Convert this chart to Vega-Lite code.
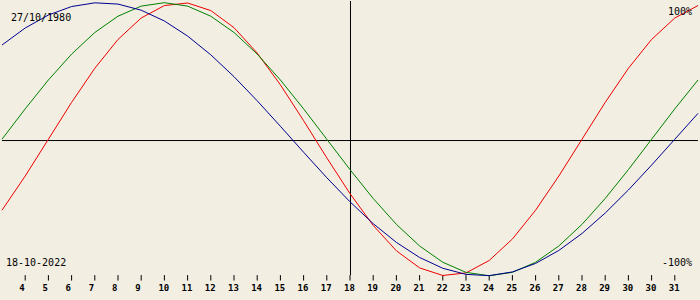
{
  "$schema": "https://vega.github.io/schema/vega-lite/v6.json",
  "width": 700,
  "height": 300,
  "autosize": {"type": "fit", "contains": "padding"},
  "padding": 0,
  "background": "#f2eee2",
  "config": {
    "view": {"stroke": null},
    "text": {"font": "DejaVu Sans Mono", "fontSize": 10, "color": "#000000"}
  },
  "datasets": {
    "curves": [
      {"day": 0, "series": "Physical", "v": -0.5196}, {"day": 1, "series": "Physical", "v": -0.2698}, {"day": 2, "series": "Physical", "v": 0}, {"day": 3, "series": "Physical", "v": 0.2698}, {"day": 4, "series": "Physical", "v": 0.5196}, {"day": 5, "series": "Physical", "v": 0.7308}, {"day": 6, "series": "Physical", "v": 0.8879}, {"day": 7, "series": "Physical", "v": 0.9791}, {"day": 8, "series": "Physical", "v": 0.9977}, {"day": 9, "series": "Physical", "v": 0.9423}, {"day": 10, "series": "Physical", "v": 0.817}, {"day": 11, "series": "Physical", "v": 0.6311}, {"day": 12, "series": "Physical", "v": 0.3984}, {"day": 13, "series": "Physical", "v": 0.1362}, {"day": 14, "series": "Physical", "v": -0.1362}, {"day": 15, "series": "Physical", "v": -0.3984}, {"day": 16, "series": "Physical", "v": -0.6311}, {"day": 17, "series": "Physical", "v": -0.817}, {"day": 18, "series": "Physical", "v": -0.9423}, {"day": 19, "series": "Physical", "v": -0.9977}, {"day": 20, "series": "Physical", "v": -0.9791}, {"day": 21, "series": "Physical", "v": -0.8879}, {"day": 22, "series": "Physical", "v": -0.7308}, {"day": 23, "series": "Physical", "v": -0.5196}, {"day": 24, "series": "Physical", "v": -0.2698}, {"day": 25, "series": "Physical", "v": 0}, {"day": 26, "series": "Physical", "v": 0.2698}, {"day": 27, "series": "Physical", "v": 0.5196}, {"day": 28, "series": "Physical", "v": 0.7308}, {"day": 29, "series": "Physical", "v": 0.8879}, {"day": 30, "series": "Physical", "v": 0.9791},
      {"day": 0, "series": "Emotional", "v": 0}, {"day": 1, "series": "Emotional", "v": 0.2225}, {"day": 2, "series": "Emotional", "v": 0.4339}, {"day": 3, "series": "Emotional", "v": 0.6235}, {"day": 4, "series": "Emotional", "v": 0.7818}, {"day": 5, "series": "Emotional", "v": 0.901}, {"day": 6, "series": "Emotional", "v": 0.9749}, {"day": 7, "series": "Emotional", "v": 1}, {"day": 8, "series": "Emotional", "v": 0.9749}, {"day": 9, "series": "Emotional", "v": 0.901}, {"day": 10, "series": "Emotional", "v": 0.7818}, {"day": 11, "series": "Emotional", "v": 0.6235}, {"day": 12, "series": "Emotional", "v": 0.4339}, {"day": 13, "series": "Emotional", "v": 0.2225}, {"day": 14, "series": "Emotional", "v": 0}, {"day": 15, "series": "Emotional", "v": -0.2225}, {"day": 16, "series": "Emotional", "v": -0.4339}, {"day": 17, "series": "Emotional", "v": -0.6235}, {"day": 18, "series": "Emotional", "v": -0.7818}, {"day": 19, "series": "Emotional", "v": -0.901}, {"day": 20, "series": "Emotional", "v": -0.9749}, {"day": 21, "series": "Emotional", "v": -1}, {"day": 22, "series": "Emotional", "v": -0.9749}, {"day": 23, "series": "Emotional", "v": -0.901}, {"day": 24, "series": "Emotional", "v": -0.7818}, {"day": 25, "series": "Emotional", "v": -0.6235}, {"day": 26, "series": "Emotional", "v": -0.4339}, {"day": 27, "series": "Emotional", "v": -0.2225}, {"day": 28, "series": "Emotional", "v": 0}, {"day": 29, "series": "Emotional", "v": 0.2225}, {"day": 30, "series": "Emotional", "v": 0.4339},
      {"day": 0, "series": "Intellectual", "v": 0.6901}, {"day": 1, "series": "Intellectual", "v": 0.8146}, {"day": 2, "series": "Intellectual", "v": 0.9096}, {"day": 3, "series": "Intellectual", "v": 0.9718}, {"day": 4, "series": "Intellectual", "v": 0.9989}, {"day": 5, "series": "Intellectual", "v": 0.9898}, {"day": 6, "series": "Intellectual", "v": 0.945}, {"day": 7, "series": "Intellectual", "v": 0.866}, {"day": 8, "series": "Intellectual", "v": 0.7557}, {"day": 9, "series": "Intellectual", "v": 0.6182}, {"day": 10, "series": "Intellectual", "v": 0.4582}, {"day": 11, "series": "Intellectual", "v": 0.2817}, {"day": 12, "series": "Intellectual", "v": 0.0951}, {"day": 13, "series": "Intellectual", "v": -0.0951}, {"day": 14, "series": "Intellectual", "v": -0.2817}, {"day": 15, "series": "Intellectual", "v": -0.4582}, {"day": 16, "series": "Intellectual", "v": -0.6182}, {"day": 17, "series": "Intellectual", "v": -0.7557}, {"day": 18, "series": "Intellectual", "v": -0.866}, {"day": 19, "series": "Intellectual", "v": -0.945}, {"day": 20, "series": "Intellectual", "v": -0.9898}, {"day": 21, "series": "Intellectual", "v": -0.9989}, {"day": 22, "series": "Intellectual", "v": -0.9718}, {"day": 23, "series": "Intellectual", "v": -0.9096}, {"day": 24, "series": "Intellectual", "v": -0.8146}, {"day": 25, "series": "Intellectual", "v": -0.6901}, {"day": 26, "series": "Intellectual", "v": -0.5406}, {"day": 27, "series": "Intellectual", "v": -0.3717}, {"day": 28, "series": "Intellectual", "v": -0.1893}, {"day": 29, "series": "Intellectual", "v": 0}, {"day": 30, "series": "Intellectual", "v": 0.1893}
    ],
    "ticks": [
      {"pos": 1, "label": "4"}, {"pos": 2, "label": "5"}, {"pos": 3, "label": "6"}, {"pos": 4, "label": "7"}, {"pos": 5, "label": "8"}, {"pos": 6, "label": "9"}, {"pos": 7, "label": "10"}, {"pos": 8, "label": "11"}, {"pos": 9, "label": "12"}, {"pos": 10, "label": "13"}, {"pos": 11, "label": "14"}, {"pos": 12, "label": "15"}, {"pos": 13, "label": "16"}, {"pos": 14, "label": "17"}, {"pos": 15, "label": "18"}, {"pos": 16, "label": "19"}, {"pos": 17, "label": "20"}, {"pos": 18, "label": "21"}, {"pos": 19, "label": "22"}, {"pos": 20, "label": "23"}, {"pos": 21, "label": "24"}, {"pos": 22, "label": "25"}, {"pos": 23, "label": "26"}, {"pos": 24, "label": "27"}, {"pos": 25, "label": "28"}, {"pos": 26, "label": "29"}, {"pos": 27, "label": "30"}, {"pos": 28, "label": "30"}, {"pos": 29, "label": "31"}
    ]
  },
  "layer": [
    {
      "data": {"values": [{}]},
      "mark": {"type": "rule", "color": "#000000", "strokeWidth": 1},
      "encoding": {
        "y": {"datum": -0.0095, "type": "quantitative", "scale": {"domain": [-1.1774, 1.0124], "nice": false, "zero": false}, "axis": null}
      }
    },
    {
      "data": {"values": [{}]},
      "mark": {"type": "rule", "color": "#000000", "strokeWidth": 1},
      "encoding": {
        "x": {"datum": 15.0214, "type": "quantitative", "scale": {"domain": [0, 30], "nice": false, "zero": false}, "axis": null},
        "y": {"datum": 1.0124, "type": "quantitative", "scale": {"domain": [-1.1774, 1.0124], "nice": false, "zero": false}, "axis": null},
        "y2": {"datum": -0.995}
      }
    },
    {
      "data": {"name": "ticks"},
      "mark": {"type": "rule", "color": "#000000", "strokeWidth": 1},
      "encoding": {
        "x": {"field": "pos", "type": "quantitative", "scale": {"domain": [0, 30], "nice": false, "zero": false}, "axis": null},
        "y": {"datum": -0.995, "type": "quantitative", "scale": {"domain": [-1.1774, 1.0124], "nice": false, "zero": false}, "axis": null},
        "y2": {"datum": -1.035}
      }
    },
    {
      "data": {"name": "ticks"},
      "mark": {"type": "text", "align": "left", "baseline": "middle", "dx": -6, "fontSize": 9, "fontWeight": "bold"},
      "encoding": {
        "x": {"field": "pos", "type": "quantitative", "scale": {"domain": [0, 30], "nice": false, "zero": false}, "axis": null},
        "y": {"datum": -1.0898, "type": "quantitative", "scale": {"domain": [-1.1774, 1.0124], "nice": false, "zero": false}, "axis": null},
        "text": {"field": "label", "type": "nominal"}
      }
    },
    {
      "data": {"name": "curves"},
      "mark": {"type": "line", "strokeWidth": 1, "interpolate": "linear"},
      "encoding": {
        "x": {"field": "day", "type": "quantitative", "scale": {"domain": [0, 30], "nice": false, "zero": false}, "axis": null},
        "y": {"field": "v", "type": "quantitative", "scale": {"domain": [-1.1774, 1.0124], "nice": false, "zero": false}, "axis": null},
        "color": {
          "field": "series", "type": "nominal",
          "scale": {"domain": ["Physical", "Emotional", "Intellectual"], "range": ["#ee0000", "#008000", "#000090"]},
          "legend": null
        },
        "order": {"field": "day"}
      }
    },
    {
      "data": {"values": [{}]},
      "mark": {"type": "text", "text": "27/10/1980", "align": "left", "baseline": "middle"},
      "encoding": {
        "x": {"datum": 0.386, "type": "quantitative", "scale": {"domain": [0, 30], "nice": false, "zero": false}, "axis": null},
        "y": {"datum": 0.886, "type": "quantitative", "scale": {"domain": [-1.1774, 1.0124], "nice": false, "zero": false}, "axis": null}
      }
    },
    {
      "data": {"values": [{}]},
      "mark": {"type": "text", "text": "100%", "align": "right", "baseline": "middle"},
      "encoding": {
        "x": {"datum": 29.743, "type": "quantitative", "scale": {"domain": [0, 30], "nice": false, "zero": false}, "axis": null},
        "y": {"datum": 0.9285, "type": "quantitative", "scale": {"domain": [-1.1774, 1.0124], "nice": false, "zero": false}, "axis": null}
      }
    },
    {
      "data": {"values": [{}]},
      "mark": {"type": "text", "text": "18-10-2022", "align": "left", "baseline": "middle"},
      "encoding": {
        "x": {"datum": 0.171, "type": "quantitative", "scale": {"domain": [0, 30], "nice": false, "zero": false}, "axis": null},
        "y": {"datum": -0.9037, "type": "quantitative", "scale": {"domain": [-1.1774, 1.0124], "nice": false, "zero": false}, "axis": null}
      }
    },
    {
      "data": {"values": [{}]},
      "mark": {"type": "text", "text": "-100%", "align": "right", "baseline": "middle"},
      "encoding": {
        "x": {"datum": 29.743, "type": "quantitative", "scale": {"domain": [0, 30], "nice": false, "zero": false}, "axis": null},
        "y": {"datum": -0.9037, "type": "quantitative", "scale": {"domain": [-1.1774, 1.0124], "nice": false, "zero": false}, "axis": null}
      }
    }
  ]
}
